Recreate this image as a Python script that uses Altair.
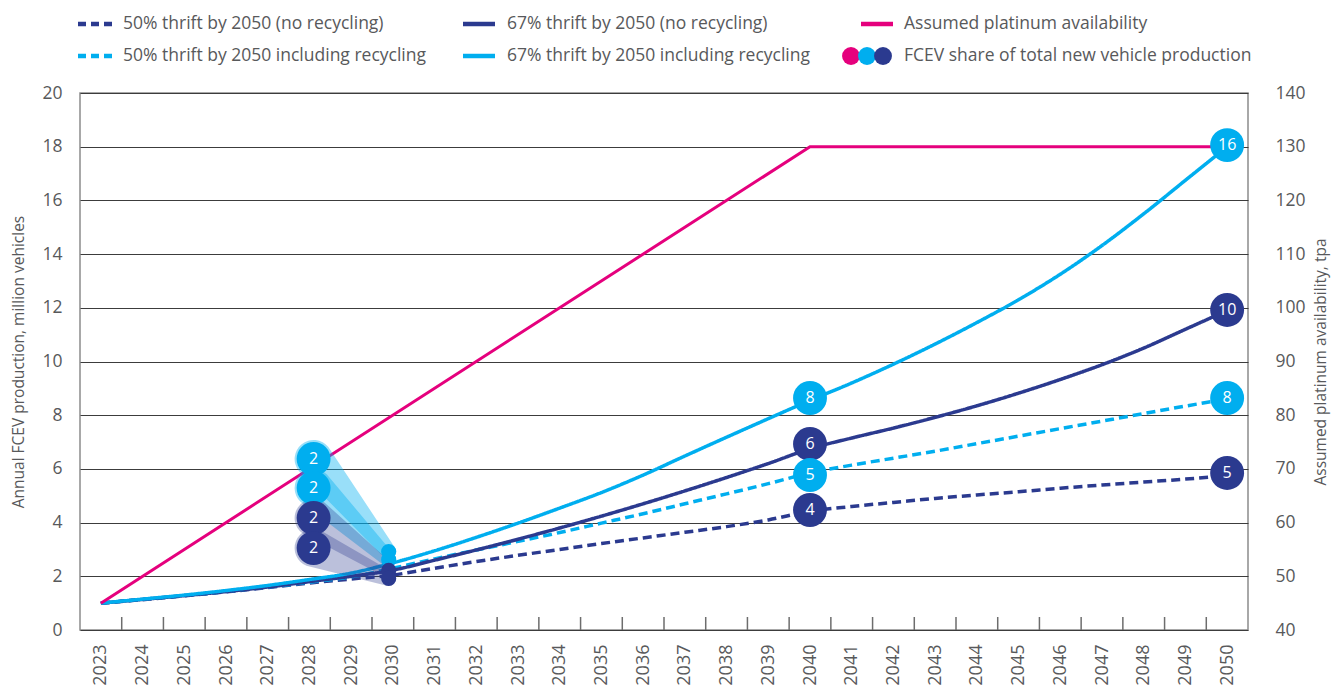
import altair as alt
import pandas as pd

# ---------------- data ----------------
years = list(range(2023, 2051))
thrift50_no_recycling = [1.0, 1.13, 1.27, 1.42, 1.58, 1.75, 1.9, 2.05, 2.3, 2.55, 2.78, 3.0, 3.22,
                         3.43, 3.64, 3.85, 4.1, 4.42, 4.6, 4.75, 4.9, 5.03, 5.15, 5.28, 5.4, 5.51, 5.62, 5.75]
thrift67_no_recycling = [1.0, 1.14, 1.28, 1.43, 1.6, 1.8, 2.0, 2.23, 2.6, 2.98, 3.38, 3.8, 4.24,
                         4.7, 5.18, 5.68, 6.2, 6.75, 7.15, 7.52, 7.92, 8.35, 8.82, 9.33, 9.88, 10.5, 11.2, 11.9]
thrift50_recycling = [1.0, 1.14, 1.28, 1.43, 1.6, 1.78, 1.98, 2.3, 2.65, 2.98, 3.3, 3.63, 3.98,
                      4.33, 4.7, 5.07, 5.45, 5.85, 6.14, 6.4, 6.66, 6.94, 7.22, 7.5, 7.78, 8.06, 8.34, 8.6]
thrift67_recycling = [1.0, 1.15, 1.3, 1.47, 1.66, 1.88, 2.12, 2.5, 2.95, 3.45, 3.98, 4.54, 5.12,
                      5.77, 6.48, 7.18, 7.87, 8.55, 9.2, 9.9, 10.65, 11.45, 12.3, 13.25, 14.32, 15.5, 16.75, 18.0]

plat_years = [2023, 2040, 2050]
plat_tpa = [45, 130, 130]

series_names = ["50% thrift by 2050 (no recycling)", "50% thrift by 2050 including recycling",
                "67% thrift by 2050 (no recycling)", "67% thrift by 2050 including recycling"]
series_values = [thrift50_no_recycling, thrift50_recycling, thrift67_no_recycling, thrift67_recycling]

# FCEV share bubbles (label = % share of total new vehicle production)
bub_year = [2028.1, 2028.1, 2028.1, 2028.1, 2040, 2040, 2040, 2040, 2050, 2050, 2050, 2050]
bub_value = [6.37, 5.29, 4.17, 3.05, 8.64, 6.93, 5.77, 4.47, 18.06, 11.92, 8.64, 5.85]
bub_label = ["2", "2", "2", "2", "8", "6", "5", "4", "16", "10", "8", "5"]
bub_group = ["incl", "incl", "no", "no", "incl", "no", "incl", "no", "incl", "no", "incl", "no"]

# small 2030 markers that the 2028 bubbles point to
mark_year = [2029.9, 2029.9, 2029.9, 2029.9]
mark_value = [2.92, 2.62, 2.22, 1.92]
mark_group = ["incl", "incl", "no", "no"]

legend_labels = ["50% thrift by 2050 (no recycling)", "67% thrift by 2050 (no recycling)",
                 "Assumed platinum availability", "50% thrift by 2050 including recycling",
                 "67% thrift by 2050 including recycling", "FCEV share of total new vehicle production"]

# ---------------- styling ----------------
NAVY = "#2b3a8f"
LIGHT = "#00aeef"
PINK = "#e5007d"
TXT = "#58595b"
FONT = "Open Sans"

lines_df = pd.DataFrame([
    {"year": y, "value": v, "series": s}
    for s, vals in zip(series_names, series_values) for y, v in zip(years, vals)
])
plat_df = pd.DataFrame({"year": plat_years, "tpa": plat_tpa})
bub_df = pd.DataFrame({"year": bub_year, "value": bub_value, "label": bub_label,
                       "grp": bub_group, "order": list(range(len(bub_year)))})
mark_df = pd.DataFrame({"year": mark_year, "value": mark_value, "grp": mark_group})
fan_rows = []
for i in range(4):
    fan_rows.append({"year": bub_year[i], "value": bub_value[i], "end": "bubble", "fan": i, "grp": bub_group[i]})
    fan_rows.append({"year": mark_year[i], "value": mark_value[i], "end": "marker", "fan": i, "grp": mark_group[i]})
fan_df = pd.DataFrame(fan_rows)
tick_df = pd.DataFrame({"tick": [y + 0.5 for y in years[:-1]]})
one = pd.DataFrame({"k": [0]})

xscale = alt.Scale(domain=[2022.5, 2050.5], nice=False, zero=False)
xaxis = alt.Axis(values=years, format="d", labelAngle=270, ticks=False, domain=False, grid=False,
                 labelPadding=14, labelFontSize=18, labelColor=TXT, labelFont=FONT, title=None)


def X(field):
    return alt.X(f"{field}:Q", scale=xscale, axis=xaxis, title=None)


lscale = alt.Scale(domain=[0, 20], nice=False, zero=True)
grp_color = alt.Scale(domain=["incl", "no"], range=[LIGHT, NAVY])

lines = alt.Chart(lines_df).mark_line(strokeWidth=3.5, interpolate="monotone").encode(
    x=X("year"),
    y=alt.Y("value:Q", scale=lscale, title="Annual FCEV production, million vehicles",
            axis=alt.Axis(orient="left", values=list(range(0, 21, 2)), grid=True, gridColor="#3c3c3c",
                          gridWidth=1, ticks=False, domain=False, labelPadding=18, labelFontSize=17.5,
                          labelColor=TXT, labelFont=FONT, titleFont=FONT, titleFontSize=15.5,
                          titleFontWeight="normal", titleColor=TXT, titlePadding=15)),
    color=alt.Color("series:N", scale=alt.Scale(domain=series_names, range=[NAVY, LIGHT, NAVY, LIGHT]), legend=None),
    strokeDash=alt.StrokeDash("series:N", scale=alt.Scale(domain=series_names,
                                                          range=[[9, 5], [9, 5], [1, 0], [1, 0]]), legend=None),
    detail="series:N",
)

plat = alt.Chart(plat_df).mark_line(strokeWidth=3, color=PINK).encode(
    x=X("year"),
    y=alt.Y("tpa:Q", scale=alt.Scale(domain=[40, 140], nice=False, zero=False),
            title="Assumed platinum availability, tpa",
            axis=alt.Axis(orient="right", values=list(range(40, 141, 10)), grid=False, ticks=False,
                          domain=False, labelPadding=27, labelFontSize=17.5, labelColor=TXT, labelFont=FONT,
                          titleFont=FONT, titleFontSize=15.5, titleFontWeight="normal", titleColor=TXT,
                          titlePadding=8, titleAngle=270, titleBaseline="top")),
)

ticks = alt.Chart(tick_df).mark_rule(color="#6d6d6d", strokeWidth=1.5).encode(
    x=X("tick"), y=alt.value(524), y2=alt.value(537)
)

fans = alt.Chart(fan_df).mark_trail().encode(
    x=X("year"),
    y=alt.Y("value:Q", scale=lscale, axis=None),
    size=alt.Size("end:N", scale=alt.Scale(domain=["bubble", "marker"], range=[38, 15]), legend=None),
    color=alt.Color("grp:N", scale=grp_color, legend=None),
    opacity=alt.Opacity("grp:N", scale=alt.Scale(domain=["incl", "no"], range=[0.4, 0.32]), legend=None),
    detail="fan:N",
)

markers = alt.Chart(mark_df).mark_circle(size=230, opacity=1).encode(
    x=X("year"),
    y=alt.Y("value:Q", scale=lscale, axis=None),
    color=alt.Color("grp:N", scale=grp_color, legend=None),
)

bubbles = alt.Chart(bub_df).mark_circle(size=1150, opacity=1).encode(
    x=X("year"),
    y=alt.Y("value:Q", scale=lscale, axis=None),
    color=alt.Color("grp:N", scale=grp_color, legend=None),
    order="order:Q",
)

bub_text = alt.Chart(bub_df).mark_text(color="white", fontSize=16, font=FONT, baseline="middle",
                                       align="center").encode(
    x=X("year"),
    y=alt.Y("value:Q", scale=lscale, axis=None),
    text="label:N",
)

# ---------------- legend (drawn above the plot area) ----------------
row_y = [-69, -37]
sym_x = [(-2, 32), (383, 415), (781, 813)]
txt_x = [43, 427, 824]
legend_styles = [(NAVY, [8, 5]), (NAVY, None), (PINK, None), (LIGHT, [8, 5]), (LIGHT, None), None]

legend_layers = []
for i, lab in enumerate(legend_labels):
    r, c = divmod(i, 3)
    st = legend_styles[i]
    if st is not None:
        kw = dict(color=st[0], strokeWidth=4.5, strokeCap="butt")
        if st[1]:
            kw["strokeDash"] = st[1]
        legend_layers.append(alt.Chart(one).mark_rule(**kw).encode(
            x=alt.value(sym_x[c][0]), x2=alt.value(sym_x[c][1]), y=alt.value(row_y[r])))
    else:
        for cx, col in zip([771, 787, 803], [PINK, LIGHT, NAVY]):
            legend_layers.append(alt.Chart(one).mark_circle(size=320, opacity=1, color=col).encode(
                x=alt.value(cx), y=alt.value(row_y[r])))
    legend_layers.append(alt.Chart(pd.DataFrame({"label": [lab]})).mark_text(
        align="left", baseline="middle", fontSize=17.5, font=FONT, color=TXT).encode(
        x=alt.value(txt_x[c]), y=alt.value(row_y[r]), text="label:N"))

chart = alt.layer(
    lines, plat, ticks, fans, markers, bubbles, bub_text, *legend_layers
).resolve_scale(
    y="independent", color="independent", size="independent", strokeDash="independent",
    opacity="independent"
).properties(
    width=1168, height=537,
    padding={"left": 72, "top": 85, "right": 85, "bottom": 60},
    autosize=alt.AutoSizeParams(type="none"),
).configure_view(
    stroke="#8c8c8c", strokeWidth=1.5
)

chart.save("out.html", embed_options={"renderer": "svg", "actions": False})
